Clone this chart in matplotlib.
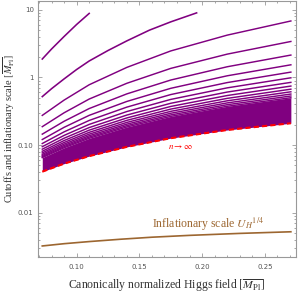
import matplotlib
matplotlib.use('Agg')
import matplotlib.pyplot as plt
from matplotlib.ticker import FixedLocator, MultipleLocator, LogLocator, NullFormatter

plt.rcParams['mathtext.fontset'] = 'stix'

# ---- data ----
h_grid = [0.0726, 0.09, 0.11, 0.14, 0.175, 0.22, 0.2707]

cut_1_h = [0.0726, 0.08, 0.09, 0.10, 0.11]
cut_1 = [1.87, 2.63, 4.03, 6.07, 8.84]
cut_2_h = [0.0726, 0.08, 0.09, 0.10, 0.11, 0.125, 0.14, 0.158, 0.175, 0.1956]
cut_2 = [0.520, 0.681, 0.951, 1.31, 1.75, 2.50, 3.47, 5.0, 6.63, 9.0]
cut_3 = [0.2745, 0.462, 0.779, 1.407, 2.464, 4.22, 6.83]
cut_4 = [0.187, 0.300, 0.479, 0.819, 1.36, 2.21, 3.40]
cut_5 = [0.1449, 0.2247, 0.3465, 0.571, 0.915, 1.438, 2.14]
cut_6 = [0.1207, 0.1829, 0.2750, 0.4413, 0.690, 1.057, 1.536]
cut_7 = [0.1053, 0.1567, 0.2312, 0.3638, 0.558, 0.839, 1.198]
cut_8 = [0.0946, 0.1389, 0.2020, 0.3131, 0.473, 0.701, 0.987]
cut_9 = [0.0869, 0.1262, 0.1813, 0.2776, 0.4146, 0.6076, 0.845]
cut_10 = [0.0810, 0.1166, 0.1660, 0.2516, 0.3722, 0.540, 0.745]
cut_11 = [0.0765, 0.1092, 0.1542, 0.2318, 0.340, 0.490, 0.670]
cut_12 = [0.0728, 0.1033, 0.1449, 0.2162, 0.3150, 0.451, 0.613]
cut_13 = [0.0698, 0.0986, 0.1373, 0.2037, 0.2953, 0.420, 0.5676]
cut_14 = [0.0673, 0.0946, 0.1311, 0.1935, 0.2790, 0.3952, 0.531]
cut_15 = [0.0652, 0.0912, 0.1259, 0.1850, 0.2655, 0.3744, 0.501]
cut_inf = [0.0404, 0.0531, 0.0686, 0.0940, 0.1264, 0.1670, 0.210]

infl_h = [0.0726, 0.09, 0.11, 0.135, 0.16, 0.19, 0.23, 0.2707]
infl = [0.00322, 0.00348, 0.00374, 0.00405, 0.00434, 0.00462, 0.00494, 0.00522]

x_ticks = [0.10, 0.15, 0.20, 0.25]
x_ticklabels = ['0.10', '0.15', '0.20', '0.25']
y_ticks = [0.01, 0.1, 1, 10]
y_ticklabels = ['0.01', '0.10', '1', '10']

# ---- figure ----
purple = '#800080'
brown = '#9c6630'
fig = plt.figure(figsize=(3.0, 2.93), dpi=100)
ax = fig.add_axes([0.125, 0.122, 0.8617, 0.876])
ax.set_yscale('log')

ax.fill_between(h_grid, cut_inf, cut_15, color=purple, lw=0, zorder=2)
ax.plot(cut_1_h, cut_1, color=purple, lw=1.15, zorder=3)
ax.plot(cut_2_h, cut_2, color=purple, lw=1.15, zorder=3)
for c in [cut_3, cut_4, cut_5, cut_6, cut_7, cut_8, cut_9, cut_10,
          cut_11, cut_12, cut_13, cut_14, cut_15]:
    ax.plot(h_grid, c, color=purple, lw=1.05, zorder=3)
ax.plot(h_grid, cut_inf, color='red', lw=1.5, dashes=(2.5, 1.5), zorder=4)
ax.plot(infl_h, infl, color=brown, lw=1.2, zorder=3)

ax.text(0.1831, 0.0968, r'$n \rightarrow \infty$', color='red', fontsize=6.5,
        ha='center', va='center')
ax.text(0.160, 0.00594, r'Inflationary scale $U_H{}^{1/4}$', color=brown,
        fontsize=8.5, family='Liberation Serif', ha='left', va='baseline')

ax.set_xlim(0.0688, 0.2748)
ax.set_ylim(10 ** -2.659, 10 ** 1.136)

ax.xaxis.set_major_locator(FixedLocator(x_ticks))
ax.set_xticklabels(x_ticklabels)
ax.xaxis.set_minor_locator(MultipleLocator(0.01))
ax.yaxis.set_major_locator(FixedLocator(y_ticks))
ax.set_yticklabels(y_ticklabels)
ax.yaxis.set_minor_locator(LogLocator(base=10, subs=range(2, 10)))
ax.yaxis.set_minor_formatter(NullFormatter())

ax.tick_params(which='both', direction='in', top=True, right=True,
               color='#999999', labelcolor='#555555', labelsize=5, width=0.6)
ax.tick_params(which='major', length=3)
ax.tick_params(which='minor', length=1.5)
ax.tick_params(axis='x', pad=4.5)
ax.tick_params(axis='y', pad=2.7)
for s in ax.spines.values():
    s.set_color('#999999')
    s.set_linewidth(0.8)

ax.set_xlabel(r'Canonically normalized Higgs field $[\overline{M_{\mathrm{Pl}}}]$',
              fontsize=8.5, family='Liberation Serif', color='#333333')
ax.set_ylabel(r'Cutoffs and inflationary scale $[\overline{M_{\mathrm{Pl}}}]$',
              fontsize=7.5, family='Liberation Serif', color='#333333')
ax.xaxis.set_label_coords(0.5, -0.078)
ax.yaxis.set_label_coords(-0.080, 0.5)

fig.savefig('out.png', dpi=100)
